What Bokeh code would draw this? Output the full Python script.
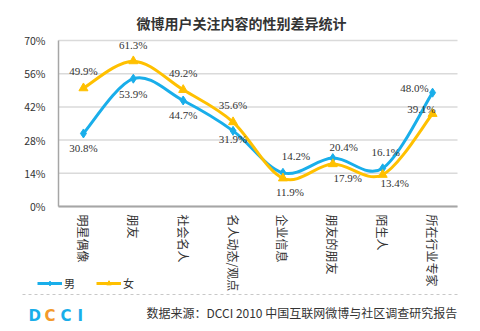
import math
from bokeh.plotting import figure
from bokeh.models import (Range1d, FixedTicker, ColumnDataSource, LabelSet,
                          Label, Legend, LegendItem, Arrow, PrintfTickFormatter)
from bokeh.embed import file_html
from bokeh.resources import INLINE

# ---------------- data ----------------
categories = ["明星偶像", "朋友", "社会名人", "名人动态/观点", "企业信息", "朋友的朋友", "陌生人", "所在行业专家"]
male = [30.8, 53.9, 44.7, 31.9, 14.2, 20.4, 16.1, 48.0]
female = [49.9, 61.3, 49.2, 35.6, 11.9, 17.9, 13.4, 39.1]
y_ticks = [0, 14, 28, 42, 56, 70]
series_names = ["男", "女"]
title_text = "微博用户关注内容的性别差异统计"
source_text = "数据来源：DCCI 2010 中国互联网微博与社区调查研究报告"
logo_letters = ["D", "C", "C", "I"]

# ---------------- layout / styles ----------------
W, H = 480, 331
PLOT_L, PLOT_R, PLOT_T, PLOT_B = 58, 457, 40, 206   # pixel box of the data area
BLUE = "#19AEEA"
YELLOW = "#FFC000"
TXT = "#333333"
FONT = "Noto Sans CJK SC"
male_dx = [0, 0, 0, 0, 13, 11, 3, -18]
male_dy = [-15, -15, -15, -8, 17, 11, 16, 5]
female_dx = [0, 0, 0, 0, 7, 15, 12, -11]
female_dy = [17, 16, 17, 17, -14, -14, -8, 5]

n_cat = len(categories)
y_max = y_ticks[-1]
kx = (PLOT_R - PLOT_L) / n_cat
ky = (PLOT_B - PLOT_T) / y_max
x0r = -PLOT_L / kx
y0r = -(H - PLOT_B) / ky

p = figure(width=W, height=H, output_backend="svg", toolbar_location=None,
           x_range=Range1d(x0r, x0r + W / kx), y_range=Range1d(y0r, y0r + H / ky),
           min_border=0)
p.outline_line_color = None
p.background_fill_color = "white"
p.border_fill_color = "white"
p.xgrid.visible = False
p.ygrid.visible = False

xs = [i + 0.5 for i in range(n_cat)]

# axes (drawn at the data origin)
p.yaxis.fixed_location = 0
p.yaxis.bounds = (0, y_max)
p.yaxis.ticker = FixedTicker(ticks=y_ticks)
p.yaxis.formatter = PrintfTickFormatter(format="%d%%")
p.yaxis.major_tick_line_color = None
p.yaxis.minor_tick_line_color = None
p.yaxis.major_tick_out = 0
p.yaxis.major_tick_in = 0
p.yaxis.major_label_standoff = 13
p.yaxis.axis_line_color = "#A6A6A6"
p.yaxis.axis_line_width = 1.5
p.yaxis.major_label_text_font = FONT
p.yaxis.major_label_text_font_size = "10.5px"
p.yaxis.major_label_text_color = TXT

p.xaxis.fixed_location = 0
p.xaxis.bounds = (0, n_cat)
p.xaxis.ticker = FixedTicker(ticks=xs)
p.xaxis.major_label_overrides = {x: c for x, c in zip(xs, categories)}
p.xaxis.major_tick_line_color = None
p.xaxis.minor_tick_line_color = None
p.xaxis.major_tick_out = 0
p.xaxis.major_tick_in = 0
p.xaxis.major_label_standoff = 8
p.xaxis.major_label_orientation = -math.pi / 2
p.xaxis.axis_line_color = "#A6A6A6"
p.xaxis.axis_line_width = 2
p.xaxis.major_label_text_font = FONT
p.xaxis.major_label_text_font_size = "12px"
p.xaxis.major_label_text_color = TXT

# horizontal grid lines at the y ticks, spanning the category band
p.segment(x0=[0] * len(y_ticks), x1=[n_cat] * len(y_ticks), y0=y_ticks, y1=y_ticks,
          line_color="#DADADA", line_width=1.5, level="underlay")


def smooth_segments(values):
    """Catmull-Rom style bezier segments through the points."""
    n = len(values)
    seg = dict(x0=[], y0=[], x1=[], y1=[], cx0=[], cy0=[], cx1=[], cy1=[])
    for i in range(n - 1):
        i0 = max(i - 1, 0)
        i3 = min(i + 2, n - 1)
        seg["x0"].append(xs[i]); seg["y0"].append(values[i])
        seg["x1"].append(xs[i + 1]); seg["y1"].append(values[i + 1])
        seg["cx0"].append(xs[i] + (xs[i + 1] - xs[i0]) / 6)
        seg["cy0"].append(values[i] + (values[i + 1] - values[i0]) / 6)
        seg["cx1"].append(xs[i + 1] - (xs[i3] - xs[i]) / 6)
        seg["cy1"].append(values[i + 1] - (values[i3] - values[i]) / 6)
    return ColumnDataSource(seg)


items = []
for vals, color, marker, msize, dx, dy, name in [
        (male, BLUE, "diamond", 9, male_dx, male_dy, series_names[0]),
        (female, YELLOW, "triangle", 9, female_dx, female_dy, series_names[1])]:
    curve = p.bezier(x0="x0", y0="y0", x1="x1", y1="y1", cx0="cx0", cy0="cy0",
                     cx1="cx1", cy1="cy1", source=smooth_segments(vals),
                     line_color=color, line_width=3)
    src = ColumnDataSource(dict(x=xs, v=vals, lab=[f"{v:.1f}%" for v in vals], dx=dx, dy=dy))
    pts = p.scatter("x", "v", source=src, marker=marker, size=msize,
                    fill_color=color, line_color=color)
    p.add_layout(LabelSet(x="x", y="v", text="lab", source=src, x_offset="dx", y_offset="dy",
                          text_align="center", text_baseline="middle",
                          text_font=FONT, text_font_size="11px", text_color=TXT))
    items.append(LegendItem(label=name, renderers=[curve, pts]))

legend = Legend(items=items, location=(37, H - 291), orientation="horizontal",
                glyph_width=25, glyph_height=12, label_standoff=2, spacing=12,
                padding=0, margin=0, border_line_color=None, background_fill_alpha=0,
                label_text_font=FONT, label_text_font_size="11px", label_text_color=TXT,
                label_height=12)
p.add_layout(legend)

# title
p.add_layout(Label(x=241, y=H - 22, x_units="screen", y_units="screen", text=title_text,
                   text_align="center", text_baseline="middle", text_font=FONT,
                   text_font_size="14px", text_font_style="bold", text_color=TXT))

# dashed separator
p.add_layout(Arrow(end=None, x_start=22, y_start=H - 294, x_end=457, y_end=H - 294,
                   start_units="screen", end_units="screen",
                   line_color="#C8C8C8", line_width=1, line_dash="3 3"))

# logo
logo_colors = [BLUE, "#F39A2B", BLUE, BLUE]
logo_x = [28, 44, 60, 77]
for ch, col, lx in zip(logo_letters, logo_colors, logo_x):
    p.add_layout(Label(x=lx, y=H - 315, x_units="screen", y_units="screen", text=ch,
                       text_align="left", text_baseline="alphabetic",
                       text_font="DejaVu Sans", text_font_size="15px",
                       text_font_style="bold", text_color=col))

# source
p.add_layout(Label(x=146, y=H - 312, x_units="screen", y_units="screen", text=source_text,
                   text_align="left", text_baseline="middle", text_font=FONT,
                   text_font_size="12px", text_color=TXT))

open("out.html", "w").write(file_html(p, INLINE))
